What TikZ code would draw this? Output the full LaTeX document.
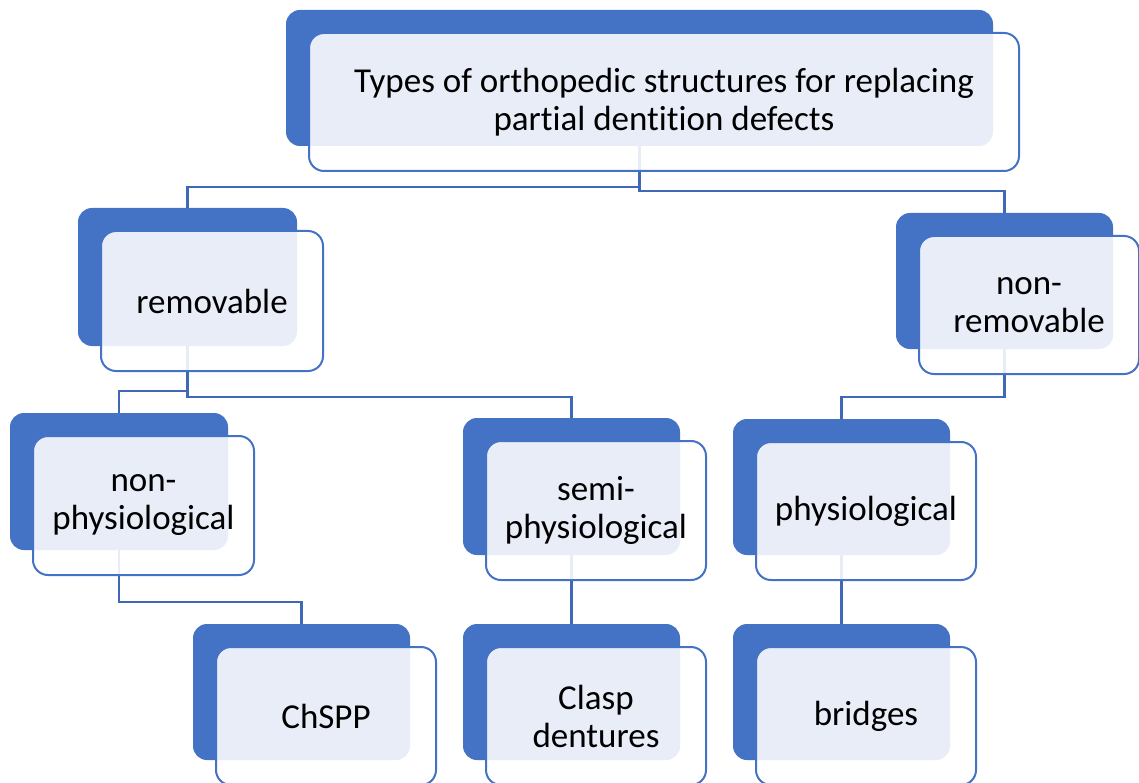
\documentclass[tikz,border=0pt]{standalone}
\usepackage{fontspec}
\setmainfont[Ligatures=NoCommon]{Carlito}
\definecolor{dblue}{HTML}{4472C4}
\definecolor{cblue}{HTML}{3F69B6}
\tikzset{
  darkbox/.style={fill=dblue, rounded corners=14pt, inner sep=0pt, outer sep=0pt},
  frontbox/.style={draw=dblue, line width=2pt, fill=white, fill opacity=0.88, text opacity=1, rounded corners=15pt, inner sep=0pt, outer sep=0pt, align=center, font=\fontsize{35}{38}\selectfont},
  conn/.style={draw=cblue, line width=2.2pt}
}
\newcommand\darkb[5]{%
  \node[darkbox, minimum width={(#4-#2)*1pt}, minimum height={(#5-#3)*1pt}, anchor=north west] (#1-d) at (#2pt,-#3pt) {};}
\newcommand\frontb[6]{%
  \node[frontbox, minimum width={(#4-#2+3)*1pt}, minimum height={(#5-#3+2)*1pt}, anchor=north west] (#1) at ({(#2+23)*1pt},{-(#3+23)*1pt}) {#6};}
\begin{document}
\begin{tikzpicture}[x=1pt,y=1pt]
\useasboundingbox (0,0) rectangle (1139,-783);
% dark back boxes
\darkb{top}{286}{10}{993}{146}
\darkb{rem}{78}{208}{297}{346}
\darkb{nrem}{896}{213}{1113}{349}
\darkb{nphys}{10}{413}{228}{550}
\darkb{semi}{463}{418}{680}{555}
\darkb{phys}{733}{419}{950}{555}
\darkb{chspp}{193}{624}{410}{760}
\darkb{clasp}{463}{624}{680}{760}
\darkb{bridges}{733}{624}{950}{760}
% connectors
\draw[conn] (top-d.south) -- ++(0,-41) -| (rem-d.north);
\draw[conn] (top-d.south) -- ++(0,-45) -| (nrem-d.north);
\draw[conn] (rem-d.south) -- ++(0,-45) -| (nphys-d.north);
\draw[conn] (rem-d.south) -- ++(0,-51) -| (semi-d.north);
\draw[conn] (nrem-d.south) -- ++(0,-48) -| (phys-d.north);
\draw[conn] (nphys-d.south) -- ++(0,-52) -| (chspp-d.north);
\draw[conn] (semi-d.south) -- (clasp-d.north);
\draw[conn] (phys-d.south) -- (bridges-d.north);
% front boxes
\frontb{top}{286}{10}{993}{146}{\fontsize{35}{39}\selectfont Types of orthopedic structures for replacing\\partial dentition defects}
\frontb{rem}{78}{208}{297}{346}{removable}
\frontb{nrem}{896}{213}{1113}{349}{non-\\removable}
\frontb{nphys}{10}{413}{228}{550}{non-\\physiological}
\frontb{semi}{463}{418}{680}{555}{semi-\\physiological}
\frontb{phys}{733}{419}{950}{555}{physiological}
\frontb{chspp}{193}{624}{410}{760}{ChSPP}
\frontb{clasp}{463}{624}{680}{760}{Clasp\\dentures}
\frontb{bridges}{733}{624}{950}{760}{bridges}
\end{tikzpicture}
\end{document}
